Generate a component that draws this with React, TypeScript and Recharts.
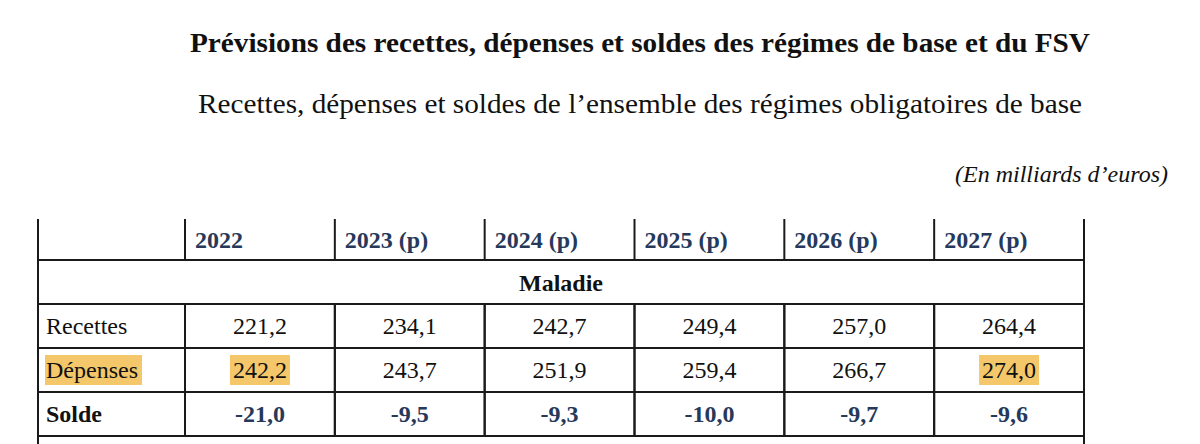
import React from 'react';
import { ScatterChart, Scatter, XAxis, YAxis } from 'recharts';

// table content
const years = ['2022', '2023 (p)', '2024 (p)', '2025 (p)', '2026 (p)', '2027 (p)'];
const section = 'Maladie';
const rowLabels = ['Recettes', 'Dépenses', 'Solde'];
const recettes = [221.2, 234.1, 242.7, 249.4, 257.0, 264.4];
const depenses = [242.2, 243.7, 251.9, 259.4, 266.7, 274.0];
const solde = [-21.0, -9.5, -9.3, -10.0, -9.7, -9.6];
const highlightedYears = ['2022', '2027 (p)'];
const NEXT_SECTION = 'next';

// layout
const TABLE_LEFT = 38;
const TABLE_RIGHT = 1084;
const LABEL_W = 147;
const HEADER_TOP = 217;
const HEADER_LINE_TOP = 219;
const HEADER_H = 43;
const ROW_H = 44;
const BAND_W = (TABLE_RIGHT - TABLE_LEFT - LABEL_W) / years.length;
const CHART_H = HEADER_TOP + HEADER_H + ROW_H * 5;

const FONT = '"Liberation Serif", "Times New Roman", Times, serif';
const NAVY = '#27395a';
const INK = '#111';
const LINE = '#1a1a1a';
const HIGHLIGHT = '#f4c86a';
const FS = 24;

const fmt = (v: number) => v.toFixed(1).replace('.', ',');

const seriesByRow: Record<string, number[]> = {
  Recettes: recettes,
  Dépenses: depenses,
  Solde: solde,
};

const cells = [
  { year: years[0], row: section, kind: 'span' },
  ...rowLabels.flatMap((row) =>
    years.map((year, i) => ({ year, row, kind: 'cell', value: seriesByRow[row][i] }))
  ),
  { year: years[0], row: NEXT_SECTION, kind: 'span' },
];

const renderCell = (props: any) => {
  const { cx, cy, payload } = props;
  const top = cy - ROW_H / 2;
  if (payload.kind === 'span') {
    const x0 = cx - BAND_W / 2 - LABEL_W;
    const w = LABEL_W + BAND_W * years.length;
    return (
      <g>
        <rect x={x0} y={top} width={w} height={ROW_H} fill="none" stroke={LINE} strokeWidth={2} />
        {payload.row === section && (
          <text x={x0 + w / 2} y={cy + 9} textAnchor="middle" style={{ fontFamily: FONT, fontSize: FS, fontWeight: 'bold' }} fill={INK}>
            {section}
          </text>
        )}
      </g>
    );
  }
  const isSolde = payload.row === 'Solde';
  const hl = payload.row === 'Dépenses' && highlightedYears.includes(payload.year);
  return (
    <g>
      <rect x={cx - BAND_W / 2} y={top} width={BAND_W} height={ROW_H} fill="none" stroke={LINE} strokeWidth={2} />
      {hl && <rect x={cx - 30} y={cy - 15} width={60} height={30} fill={HIGHLIGHT} />}
      <text
        x={cx}
        y={cy + 8}
        textAnchor="middle"
        style={{ fontFamily: FONT, fontSize: FS, fontWeight: isSolde ? 'bold' : 'normal' }}
        fill={isSolde ? NAVY : INK}
      >
        {fmt(payload.value)}
      </text>
    </g>
  );
};

const YearTick = (props: any) => {
  const { x, index, payload } = props;
  const left = x - BAND_W / 2;
  const y1 = HEADER_LINE_TOP;
  const y2 = HEADER_TOP + HEADER_H;
  return (
    <g>
      <line x1={left} x2={left} y1={y1} y2={y2} stroke={LINE} strokeWidth={2} />
      {index === 0 && <line x1={left - LABEL_W} x2={left - LABEL_W} y1={y1} y2={y2} stroke={LINE} strokeWidth={2} />}
      {index === years.length - 1 && (
        <line x1={left + BAND_W} x2={left + BAND_W} y1={y1} y2={y2} stroke={LINE} strokeWidth={2} />
      )}
      <text x={left + 10} y={248} style={{ fontFamily: FONT, fontSize: FS, fontWeight: 'bold' }} fill={NAVY}>
        {payload.value}
      </text>
    </g>
  );
};

const RowTick = (props: any) => {
  const { y, payload } = props;
  const row = payload.value;
  if (!rowLabels.includes(row)) return <g />;
  const isSolde = row === 'Solde';
  return (
    <g>
      <rect x={TABLE_LEFT} y={y - ROW_H / 2} width={LABEL_W} height={ROW_H} fill="none" stroke={LINE} strokeWidth={2} />
      {row === 'Dépenses' && <rect x={TABLE_LEFT + 7} y={y - 15} width={97} height={30} fill={HIGHLIGHT} />}
      <text
        x={TABLE_LEFT + 8}
        y={y + 8}
        style={{ fontFamily: FONT, fontSize: FS, fontWeight: isSolde ? 'bold' : 'normal' }}
        fill={INK}
      >
        {row}
      </text>
    </g>
  );
};

export default function App() {
  return (
    <div style={{ position: 'absolute', left: 0, top: 0, width: 1200, height: 444, overflow: 'hidden', background: '#fff' }}>
      <svg width={1200} height={444} style={{ position: 'absolute', left: 0, top: 0 }}>
        <text x={640} y={52} textAnchor="middle" textLength={900} lengthAdjust="spacingAndGlyphs" style={{ fontFamily: FONT, fontSize: 27, fontWeight: 'bold' }} fill={INK}>
          Prévisions des recettes, dépenses et soldes des régimes de base et du FSV
        </text>
        <text x={640} y={113} textAnchor="middle" textLength={884} lengthAdjust="spacingAndGlyphs" style={{ fontFamily: FONT, fontSize: 27 }} fill={INK}>
          Recettes, dépenses et soldes de l’ensemble des régimes obligatoires de base
        </text>
        <text x={1168} y={182} textAnchor="end" textLength={213} lengthAdjust="spacingAndGlyphs" style={{ fontFamily: FONT, fontSize: 23, fontStyle: 'italic' }} fill={INK}>
          (En milliards d’euros)
        </text>
      </svg>
      <div style={{ position: 'absolute', left: 0, top: 0 }}>
        <ScatterChart width={1200} height={CHART_H} margin={{ top: HEADER_TOP, right: 1200 - TABLE_RIGHT, bottom: 0, left: TABLE_LEFT }}>
          <XAxis
            xAxisId="x"
            dataKey="year"
            type="category"
            orientation="top"
            allowDuplicatedCategory={false}
            height={HEADER_H}
            axisLine={false}
            tickLine={false}
            interval={0}
            tick={<YearTick />}
          />
          <YAxis
            yAxisId="y"
            dataKey="row"
            type="category"
            allowDuplicatedCategory={false}
            reversed
            width={LABEL_W}
            axisLine={false}
            tickLine={false}
            interval={0}
            tick={<RowTick />}
          />
          <Scatter xAxisId="x" yAxisId="y" data={cells} shape={renderCell} isAnimationActive={false} />
        </ScatterChart>
      </div>
    </div>
  );
}
